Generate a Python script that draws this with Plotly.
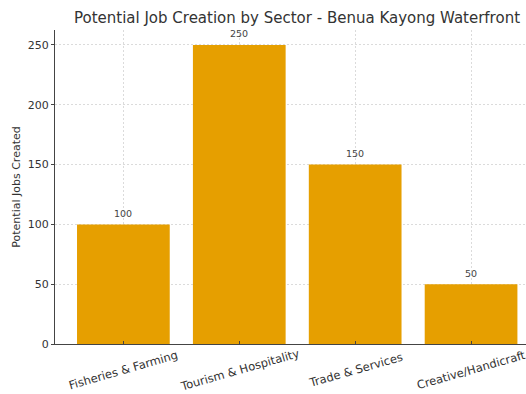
import plotly.graph_objects as go

categories = ["Fisheries & Farming", "Tourism & Hospitality", "Trade & Services", "Creative/Handicraft"]
jobs = [100, 250, 150, 50]
y_ticks = [0, 50, 100, 150, 200, 250]

title = "Potential Job Creation by Sector - Benua Kayong Waterfront"
y_title = "Potential Jobs Created"

FONT = "DejaVu Sans"
BAR = "#E69F00"
TXT = "#333333"
GRID = "rgba(190,190,190,0.55)"

fig = go.Figure()
fig.add_trace(go.Bar(
    x=list(range(len(categories))), y=jobs, width=0.8,
    marker=dict(color=BAR, line=dict(width=0)),
    hoverinfo="skip",
))

annotations = []
for i, c in enumerate(categories):
    annotations.append(dict(
        x=i, y=0, xref="x", yref="y", text=c, showarrow=False,
        textangle=-16, yshift=-26, xanchor="center", yanchor="middle",
        font=dict(family=FONT, size=11.5, color=TXT),
    ))
for i, v in enumerate(jobs):
    annotations.append(dict(
        x=i, y=v, xref="x", yref="y", text=str(v), showarrow=False,
        yshift=11, xanchor="center", yanchor="middle",
        font=dict(family=FONT, size=9.5, color="#444444"),
    ))

fig.update_layout(
    width=526, height=394,
    margin=dict(l=55, r=0, t=30, b=50),
    paper_bgcolor="white", plot_bgcolor="white",
    showlegend=False,
    title=dict(text=title, x=297 / 526, xanchor="center", y=1 - 18 / 394, yanchor="middle",
               font=dict(family=FONT, size=15, color=TXT)),
    annotations=annotations,
)
fig.update_xaxes(
    range=[-0.59, 3.474],
    tickvals=list(range(len(categories))), ticktext=["" for _ in categories],
    showline=True, linecolor="#444444", linewidth=1,
    ticks="inside", ticklen=3, tickcolor="#444444",
    showgrid=True, gridcolor=GRID, griddash="2px,2px", gridwidth=0.8,
    zeroline=False, layer="above traces",
)
fig.update_yaxes(
    range=[0, 262.5], tickvals=y_ticks,
    showline=True, linecolor="#444444", linewidth=1,
    ticks="outside", ticklen=3, tickcolor="#444444",
    tickfont=dict(family=FONT, size=11, color=TXT),
    showgrid=True, gridcolor=GRID, griddash="2px,2px", gridwidth=0.8,
    zeroline=False, layer="above traces",
    title=dict(text=y_title, font=dict(family=FONT, size=11, color=TXT), standoff=4),
)

fig.write_html("out.html")
